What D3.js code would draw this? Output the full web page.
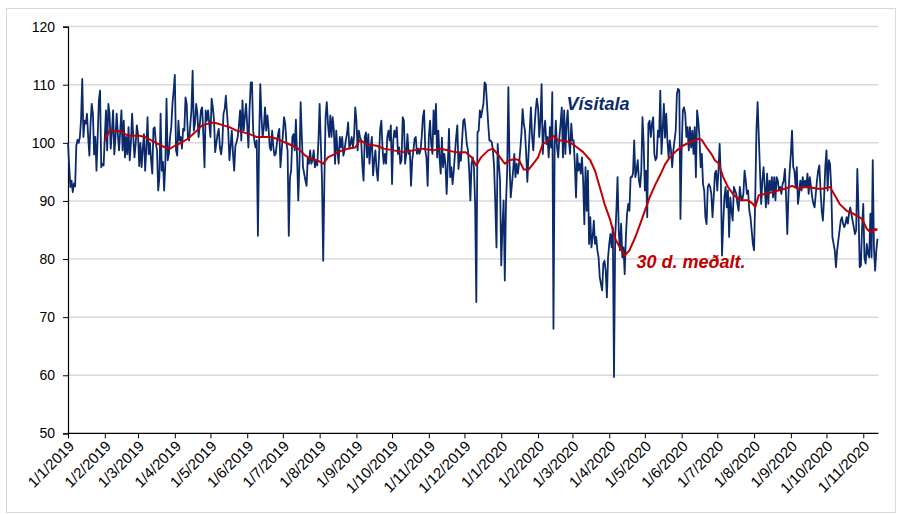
<!DOCTYPE html>
<html>
<head>
<meta charset="utf-8">
<script src="https://cdn.jsdelivr.net/npm/d3@7"></script>
<style>
  body { margin: 0; background: #fff; }
  svg { display: block; }
  text { font-family: "Liberation Sans", Arial, sans-serif; }
</style>
</head>
<body>
<svg id="chart" width="897" height="514"></svg>
<script>
// Daily index values, one per day starting 1 Jan 2019
const seriesStart = "2019-01-01";
const visitala = [
  // Jan - Feb 2019
  100,96,92.4,93.5,91.5,93,92.5,99.5,100.5,100,101,104,111,101,103.8,103.3,105,101,97.8,103.3,106.7,105,98,101,95.2,101,107.3,109,95.8,96.4,96.1,101,105.6,98.7,106.7,105,99,102,105.6,98,101,105,101.5,98.7,102,105.6,98.7,103.8,97.5,101,98,102.7,97,100,105,101,97.5,99.8,103,101.5,96,
  // Mar - early May 2019
  100,95.8,99,101.5,95.2,99,104.4,98,100,97,94.7,102.4,102.7,100,98.7,91.8,94,105,95.2,96.7,91.8,96.4,107.6,97,98.1,101,102.7,106.7,109,111.7,98.7,97.8,103.8,100.4,101,99,102.4,102.1,107.8,106.7,101,100.4,103,105.6,112.4,102.1,103.3,106.7,105,101,103,105.6,106.1,101.5,95.8,105.6,103.8,105.6,103.3,101,107.6,106.1,104,
  // May - early Jul 2019
  98.4,100,101.5,102.4,99.2,98,99.8,105,105.8,108.1,105,102.1,97,99.5,102.1,98.1,95.2,99.5,100.1,101,103,105.6,100.4,107.3,102.1,104.4,106.7,103,99.2,106.1,110.4,110.4,102.1,100.4,99.2,100.4,84,100.4,110.1,104.4,101,102.7,106.1,102.1,104.7,102.4,99.2,98.7,102.1,99.2,97.8,98.1,100,101.5,102.4,95.8,98.7,101.3,104.4,103.3,100,98.7,84,
  // Jul - Sep 2019
  94,95.2,101,101.5,98.7,104,97.5,90.1,96.4,107,101,95.8,94.7,93.5,92.6,97.5,96.4,98.7,96.4,97,98.7,95.8,97,96.1,100.4,106.7,99.8,93.5,79.7,93.5,104.4,107,103.3,101,104.7,101,104.4,102.1,96.4,102.1,98.7,96.4,101,99.2,101,97.8,98.7,100.4,101.5,103.5,99.2,99.8,101,99.2,101,106.1,103.8,98.7,102.1,101,100.4,96,93.5,
  // Sep - Nov 2019
  101,101.8,97.5,101.5,96.4,99.2,101,94.4,96.9,98.7,95.2,93.5,97.5,102.4,103.8,99,96.4,98.1,96.4,101,102.1,100.4,103,92.9,100.4,102.1,101,102.7,98.1,99.2,96.4,97,104.4,103.8,96.4,98.1,101.5,98.1,98.7,92.6,97,98.7,100.7,101,98.1,99,98.1,98.7,101,104.4,105.6,98.7,97.5,92.6,101,103.8,99.8,98.1,105.6,101.5,106.7,97.5,102.1,
  // Nov 2019 - Jan 2020
  97.5,94.7,100.9,95.8,98.1,96.4,91.2,96.4,102.4,94.1,95.8,92.9,95.2,98.1,101,103,95.5,98.1,96.9,100.4,103.8,104.1,102.1,99.8,98.7,95.2,90.1,96.4,97.5,95.8,89.5,72.6,101.8,102.1,105.6,104.4,105.6,106.7,110.4,110.1,106.7,103.3,100.4,100.4,100.1,98.7,95.8,89.5,82,99.8,96.4,93.5,78.9,85.5,90.1,76.3,89.5,95.2,109.6,96.4,90.6,92.9,95.2,98.1,
  // Jan - Mar 2020
  94.1,96.4,94.7,96.4,98.7,101.5,105.8,103.3,102.1,98.1,93.3,98.1,102.1,106.1,101,98.7,102.4,105.6,107.6,106.1,101,103.8,110.1,98.1,102.1,103.8,99.8,101,97.5,102.7,99.2,108.7,68,99.2,103.8,99.2,97.5,101,103.3,106.1,97.5,105.6,98.1,103.3,105.6,100.4,98.1,103.3,100.4,100.4,96.4,90.6,98.1,95.2,96.4,94.7,97.5,93.5,86,95.8,88.3,95.2,82.6,
  // Mar - May 2020
  87.2,82,83.8,86.6,82.6,83.8,81.5,80.3,76.9,75.7,74.6,79.2,79.7,78,73.4,80.3,82.6,84.3,82,85.5,59.7,83.8,88.3,94.1,84.9,81.5,86.1,80.3,82,77.4,83.8,87.8,89.5,88.3,94.1,94.1,94.7,100.4,94.1,95.2,97,93.5,92.4,95.2,104.4,99.8,91.8,95.2,87.2,103.3,103.8,101,103.3,104.4,98.1,97,97.5,102.1,101,109,98.1,102.1,106.7,
  // May - Jul 2020
  100.9,105,100.4,97.5,100.4,98.7,95.8,98.7,100.4,102.1,108.4,109.3,109,86.9,98.7,105.6,106.1,105,101,102.7,98.7,102.7,99.2,102.1,98.1,102.7,94.1,105.6,103.8,101,95.8,98.1,92.9,91.8,87.2,86,92.4,92.9,92.4,91.2,87.2,90.6,94.7,95.2,91.8,95.2,99.8,94.1,80.6,86,90.6,92.4,88.9,91.8,83.8,90.6,88.3,86.6,92.4,91.8,91.2,89.5,88.3,
  // Jul - Sep 2020
  92.4,90.6,90.1,91.2,95.2,93.5,91.2,91.8,88.3,87.2,84.9,82.6,81.5,90.6,102.1,107,101,95.2,89.5,93.5,95.8,92.4,88.9,94.7,89.5,93.5,91.8,94.1,90.6,94.1,90.1,94.1,93.5,91.8,92.4,91.2,92.9,93.5,95.5,90.6,84.3,91.2,95.2,98.1,102.1,95.8,95.2,92.4,95.8,89.5,91.2,93.5,91.8,94.1,92.4,93.5,92.4,94.7,91.2,94.1,92.4,90.6,89.5,
  // Sep - Nov 2020
  88.9,91.2,93.5,95.2,96.1,91.8,88.3,86.6,90.6,95.8,98.7,91.8,97,96.4,92.4,83.8,82.6,81.5,78.6,81.5,83.2,84.9,86.6,87.2,86.1,85.5,86.1,87.2,86.1,87.8,88.9,87.8,86.6,85.5,84.3,84.9,95.5,88.3,78.6,78.9,85.5,89.5,80.3,79.2,82.6,80.9,80.3,87.8,80.3,97,82,78,81.5,83.5
];

// 30-day moving average, day offset from seriesStart and value
const avgDay = [31,35,45,49,53,60,65,73,79,83,86,90,96,101,107,113,118,123,131,136,142,148,153,159,165,170,176,181,186,194,200,205,211,215,219,225,231,236,242,246,251,260,266,274,283,291,299,308,313,318,326,335,340,344,348,354,358,363,368,372,377,380,384,388,392,396,400,405,409,413,417,423,429,434,440,444,448,452,457,461,465,469,473,478,482,486,490,495,499,503,507,513,518,524,528,531,534,538,542,545,548,552,556,561,567,573,577,579,582,587,593,598,604,610,615,621,626,631,636,642,646,650,656,660,664,669,673,676,680,682];
const avgValue = [100.4,102.1,102,101.4,101.2,101.2,101,100.1,99.5,99.1,99,99.5,100.1,100.7,101.8,103,103.3,103.5,103,102.7,102.1,101.8,101.5,101,101,101,100.7,100.2,99.8,99,97.8,97.2,96.9,96.4,97.5,98.1,98.7,99,99.2,100.5,99.8,99.5,99,98.7,98.4,98.7,99,98.7,99,98.8,98.4,98.4,97.5,96.1,97.5,98.7,99,97.8,96.4,97,97.2,97,95.4,95.4,96.4,97.5,99.8,100.4,101.2,100.4,100.4,100.1,99.2,98.4,97,95.2,92.4,89.5,86.6,83.5,82,80.6,81.5,83.8,86,88.3,90.6,92.9,94.5,96.3,97.5,98.7,99.5,100.1,100.4,100.7,100.5,99.2,98.1,97,96.5,94.1,92.4,91,90.1,90.1,89.5,88.9,91,91.2,91.5,91.8,92.1,92.6,92.1,92.4,92.3,92.1,92.1,92.4,91,89.5,88.3,88,87.5,86.9,85.2,84.6,85.2,85];

const yTicks = [50, 60, 70, 80, 90, 100, 110, 120];
const monthLabels = ["1/1/2019","1/2/2019","1/3/2019","1/4/2019","1/5/2019","1/6/2019","1/7/2019","1/8/2019","1/9/2019","1/10/2019","1/11/2019","1/12/2019",
  "1/1/2020","1/2/2020","1/3/2020","1/4/2020","1/5/2020","1/6/2020","1/7/2020","1/8/2020","1/9/2020","1/10/2020","1/11/2020"];

const seriesLabel = "Vísitala";
const avgLabel = "30 d. meðalt.";

const parseDay = d3.utcParse("%Y-%m-%d");
const parseLabel = d3.utcParse("%d/%m/%Y");
const t0 = parseDay(seriesStart);
const dayDate = i => d3.utcDay.offset(t0, i);

const plot = { left: 68, right: 877.5, top: 26.6, bottom: 433.4 };

const x = d3.scaleUtc()
  .domain([t0, dayDate(visitala.length - 1)])
  .range([plot.left, plot.right]);
const y = d3.scaleLinear().domain([50, 120]).range([plot.bottom, plot.top]);

const svg = d3.select("#chart");

// outer frame
svg.append("rect")
  .attr("x", 6.5).attr("y", 8.5).attr("width", 889).attr("height", 504)
  .attr("fill", "none").attr("stroke", "#d9d9d9").attr("stroke-width", 1);

// horizontal gridlines
svg.append("g").selectAll("line")
  .data(yTicks.filter(v => v > 50))
  .join("line")
  .attr("x1", plot.left).attr("x2", plot.right + 1)
  .attr("y1", d => y(d)).attr("y2", d => y(d))
  .attr("stroke", "#d9d9d9").attr("stroke-width", 1.5);

// y axis
const yAxis = svg.append("g")
  .attr("transform", `translate(${plot.left},0)`)
  .call(d3.axisLeft(y).tickValues(yTicks).tickSize(5).tickPadding(8).tickFormat(d3.format("d")));
yAxis.select(".domain").attr("stroke", "#000").attr("stroke-width", 1.2);
yAxis.selectAll(".tick line").attr("stroke", "#000");
yAxis.selectAll(".tick text").attr("font-size", 14).attr("fill", "#000")
  .style("font-family", '"Liberation Sans", Arial, sans-serif');

// x axis with monthly ticks
const monthDates = monthLabels.map(s => parseLabel(s));
const xAxis = svg.append("g")
  .attr("transform", `translate(0,${plot.bottom})`)
  .call(d3.axisBottom(x).tickValues(monthDates).tickSize(5)
    .tickFormat((d, i) => monthLabels[i]));
xAxis.select(".domain").attr("stroke", "#000").attr("stroke-width", 1.2)
  .attr("d", `M${plot.left},0H${plot.right + 1}`);
xAxis.selectAll(".tick line").attr("stroke", "#000");
xAxis.selectAll(".tick text")
  .attr("font-size", 15).attr("fill", "#000")
  .style("font-family", '"Liberation Sans", Arial, sans-serif')
  .attr("text-anchor", "end")
  .attr("x", 0).attr("y", 0).attr("dy", "0.35em")
  .attr("transform", "translate(3,10) rotate(-45)");

// daily series
const line = d3.line()
  .x((d, i) => x(dayDate(i)))
  .y(d => y(d));
svg.append("path")
  .datum(visitala)
  .attr("fill", "none")
  .attr("stroke", "#0b2a6c")
  .attr("stroke-width", 1.8)
  .attr("stroke-linejoin", "round")
  .attr("d", line);

// moving average
const avgLine = d3.line()
  .x((d, i) => x(dayDate(avgDay[i])))
  .y(d => y(d));
svg.append("path")
  .datum(avgValue)
  .attr("fill", "none")
  .attr("stroke", "#c00000")
  .attr("stroke-width", 2)
  .attr("stroke-linejoin", "round")
  .attr("d", avgLine);

// series labels
svg.append("text")
  .attr("x", x(dayDate(420))).attr("y", y(105.6))
  .attr("font-size", 18).attr("font-weight", "bold").attr("font-style", "italic")
  .attr("fill", "#0b2a6c")
  .text(seriesLabel);
svg.append("text")
  .attr("x", x(dayDate(479))).attr("y", y(78.4))
  .attr("font-size", 18).attr("font-weight", "bold").attr("font-style", "italic")
  .attr("fill", "#c00000")
  .text(avgLabel);
</script>
</body>
</html>
